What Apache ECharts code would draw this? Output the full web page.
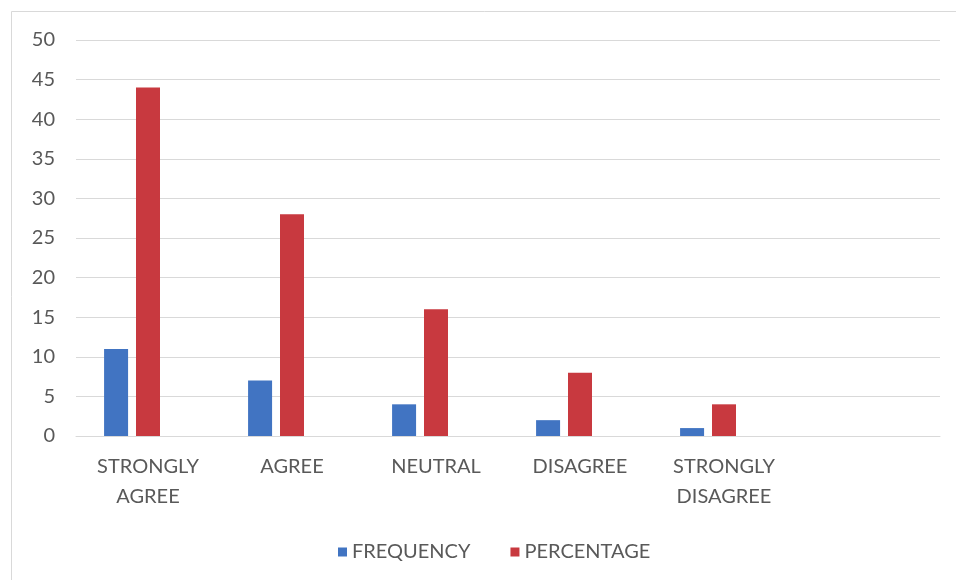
<!DOCTYPE html>
<html>
<head>
<meta charset="utf-8">
<script src="https://cdn.jsdelivr.net/npm/echarts@6/dist/echarts.min.js"></script>
<style>
  html, body { margin: 0; padding: 0; background: #ffffff; }
  #chart { width: 956px; height: 580px; }
</style>
</head>
<body>
<div id="chart"></div>
<script>
// Response categories (the last slot is an empty spare row)
const categories = ['STRONGLY\nAGREE', 'AGREE', 'NEUTRAL', 'DISAGREE', 'STRONGLY\nDISAGREE', ''];
const frequency = [11, 7, 4, 2, 1, null];
const percentage = [44, 28, 16, 8, 4, null];
// Third (empty) series reserves its slot in each group
const spare = [null, null, null, null, null, null];
const yTicks = { min: 0, max: 50, interval: 5 };

const font = 'Lato, "Open Sans", sans-serif';
const textColor = '#595959';

const chart = echarts.init(document.getElementById('chart'));
chart.setOption({
  animation: false,
  backgroundColor: '#ffffff',
  textStyle: { fontFamily: font },
  graphic: [{
    type: 'rect',
    shape: { x: 11.5, y: 11.5, width: 960, height: 600 },
    style: { fill: 'none', stroke: '#d9d9d9', lineWidth: 1 },
    silent: true
  }],
  grid: { left: 76, right: 16, top: 40, bottom: 144 },
  legend: {
    data: ['FREQUENCY', 'PERCENTAGE'],
    left: 333,
    top: 537,
    icon: 'rect',
    itemWidth: 9,
    itemHeight: 9,
    itemGap: 40,
    textStyle: { color: textColor, fontSize: 20, fontFamily: font }
  },
  xAxis: {
    type: 'category',
    data: categories,
    axisLine: { lineStyle: { color: '#d9d9d9', width: 1 } },
    axisTick: { show: false },
    axisLabel: {
      color: textColor,
      fontSize: 20,
      lineHeight: 30,
      margin: 16,
      interval: 0,
      fontFamily: font
    }
  },
  yAxis: {
    type: 'value',
    min: yTicks.min,
    max: yTicks.max,
    interval: yTicks.interval,
    axisLine: { show: false },
    axisTick: { show: false },
    splitLine: { lineStyle: { color: '#d9d9d9', width: 1 } },
    axisLabel: { color: textColor, fontSize: 20, margin: 21, fontFamily: font }
  },
  series: [
    {
      name: 'FREQUENCY',
      type: 'bar',
      data: frequency,
      barWidth: 24,
      barGap: '33%',
      itemStyle: { color: '#4174c2' }
    },
    {
      name: 'PERCENTAGE',
      type: 'bar',
      data: percentage,
      barWidth: 24,
      barGap: '33%',
      itemStyle: { color: '#c8393f' }
    },
    {
      name: 'SPARE',
      type: 'bar',
      data: spare,
      barWidth: 24,
      barGap: '33%',
      itemStyle: { color: '#9bbb59' }
    }
  ]
});
</script>
</body>
</html>
